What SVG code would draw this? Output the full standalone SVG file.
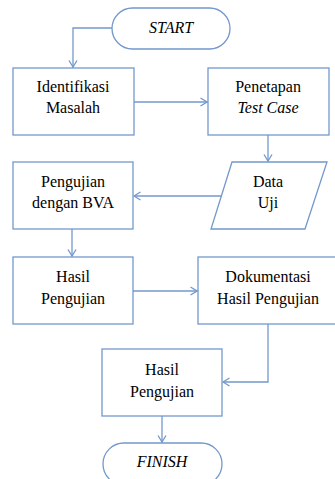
<svg xmlns="http://www.w3.org/2000/svg" width="335" height="479" viewBox="0 0 335 479">
<style>
.shape{fill:#fff;stroke:#7398cc;stroke-width:1.3}
.conn{fill:none;stroke:#7398cc;stroke-width:1.3}
.t{font-family:"Liberation Serif",serif;font-size:16px;text-anchor:middle}
.it{font-style:italic}
</style>
<defs>
<marker id="arr" viewBox="0 0 10 10" refX="10" refY="5" markerWidth="10" markerHeight="10" markerUnits="userSpaceOnUse" orient="auto">
<path d="M3,1 L9.5,5 L3,9" fill="none" stroke="#7398cc" stroke-width="1.3"/>
</marker>
</defs>
<rect width="335" height="479" fill="#fff"/>
<g id="connectors">
<path class="conn" d="M112,28 H73 V67.5" marker-end="url(#arr)"/>
<path class="conn" d="M134,102 H207.5" marker-end="url(#arr)"/>
<path class="conn" d="M268,135 V161.5" marker-end="url(#arr)"/>
<path class="conn" d="M221.5,196 H133.5" marker-end="url(#arr)"/>
<path class="conn" d="M72,229 V256.5" marker-end="url(#arr)"/>
<path class="conn" d="M133,291 H197.5" marker-end="url(#arr)"/>
<path class="conn" d="M268,324 V382 H222.5" marker-end="url(#arr)"/>
<path class="conn" d="M162,416 V442.5" marker-end="url(#arr)"/>
</g>
<g id="start">
<rect class="shape" x="112" y="8" width="118" height="41" rx="20.5"/>
<text class="t it" x="171" y="33">START</text>
</g>
<g id="identifikasi">
<rect class="shape" x="13" y="68" width="121" height="67"/>
<text class="t" x="73" y="92">Identifikasi</text>
<text class="t" x="73" y="113">Masalah</text>
</g>
<g id="penetapan">
<rect class="shape" x="208" y="68" width="121" height="67"/>
<text class="t" x="268" y="92">Penetapan</text>
<text class="t it" x="268" y="113">Test Case</text>
</g>
<g id="data-uji">
<polygon class="shape" points="232,162 327,162 305,229 211,229"/>
<text class="t" x="268" y="187">Data</text>
<text class="t" x="268" y="208">Uji</text>
</g>
<g id="pengujian-bva">
<rect class="shape" x="13" y="162" width="120" height="67"/>
<text class="t" x="73" y="187">Pengujian</text>
<text class="t" x="73" y="208">dengan BVA</text>
</g>
<g id="hasil-pengujian-1">
<rect class="shape" x="13" y="257" width="120" height="67"/>
<text class="t" x="73" y="282">Hasil</text>
<text class="t" x="73" y="304">Pengujian</text>
</g>
<g id="dokumentasi">
<rect class="shape" x="198" y="257" width="141" height="67"/>
<text class="t" x="268" y="282">Dokumentasi</text>
<text class="t" x="268" y="304">Hasil Pengujian</text>
</g>
<g id="hasil-pengujian-2">
<rect class="shape" x="102" y="349" width="120" height="67"/>
<text class="t" x="162" y="375">Hasil</text>
<text class="t" x="162" y="397">Pengujian</text>
</g>
<g id="finish">
<rect class="shape" x="103" y="443" width="119" height="42" rx="21"/>
<text class="t it" x="162" y="467">FINISH</text>
</g>
</svg>
